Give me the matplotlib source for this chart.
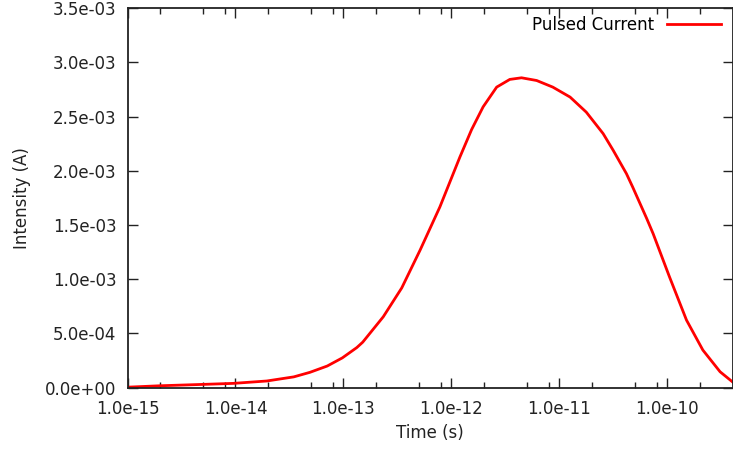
import matplotlib
matplotlib.use("Agg")
import matplotlib.pyplot as plt
from matplotlib.ticker import FixedLocator, FormatStrFormatter, MultipleLocator, NullFormatter

# values
time_s = [1.00e-15, 2.00e-15, 5.13e-15, 9.55e-15, 1.95e-14, 3.47e-14, 4.90e-14,
          7.08e-14, 9.77e-14, 1.33e-13, 1.51e-13, 2.34e-13, 3.47e-13, 5.13e-13,
          7.83e-13, 1.20e-12, 1.54e-12, 1.97e-12, 2.63e-12, 3.48e-12, 4.47e-12,
          6.17e-12, 8.71e-12, 1.26e-11, 1.78e-11, 2.55e-11, 3.16e-11, 4.19e-11,
          4.79e-11, 6.46e-11, 7.41e-11, 1.05e-10, 1.51e-10, 2.14e-10, 3.09e-10,
          4.07e-10]
current_ma = [0.005, 0.018, 0.031, 0.040, 0.062, 0.100, 0.142,
              0.200, 0.275, 0.37, 0.42, 0.654, 0.92, 1.268,
              1.667, 2.127, 2.38, 2.590, 2.772, 2.843, 2.858,
              2.833, 2.772, 2.68, 2.541, 2.343, 2.189, 1.974,
              1.85, 1.56, 1.42, 1.022, 0.623, 0.347, 0.147,
              0.05]
current_a = [v * 1e-3 for v in current_ma]

x_major = [1e-15, 1e-14, 1e-13, 1e-12, 1e-11, 1e-10]
x_minor = [m * t for t in x_major for m in (2, 5, 8) if m * t < 4.07e-10]

plt.rcParams['font.family'] = 'DejaVu Sans'
plt.rcParams['font.size'] = 12

fig = plt.figure(figsize=(7.33, 4.54), dpi=100)
ax = fig.add_axes([0.174, 0.146, 0.826, 0.836])

ax.plot(time_s, current_a, color='#ff0000', lw=2, label='Pulsed Current')

ax.set_xscale('log')
ax.set_xlim(1e-15, 4.07e-10)
ax.set_ylim(0, 3.5e-3)

ax.xaxis.set_major_locator(FixedLocator(x_major))
ax.xaxis.set_minor_locator(FixedLocator(x_minor))
ax.xaxis.set_major_formatter(FormatStrFormatter('%.1e'))
ax.xaxis.set_minor_formatter(NullFormatter())
ax.yaxis.set_major_locator(MultipleLocator(5e-4))
ax.yaxis.set_major_formatter(FormatStrFormatter('%.1e'))

ax.tick_params(which='both', direction='in', top=True, right=True, colors='#222222', width=1)
ax.tick_params(which='major', length=7, pad=8)
ax.tick_params(which='minor', length=4)
ax.tick_params(axis='x', which='major', pad=9)
for s in ax.spines.values():
    s.set_color('#222222')
    s.set_linewidth(1.3)

ax.set_xlabel('Time (s)', labelpad=4, color='#222222')
ax.set_ylabel('Intensity (A)', labelpad=10, color='#222222')

ax.legend(loc='upper right', frameon=False, markerfirst=False, handlelength=3.2,
          borderaxespad=0.2, bbox_to_anchor=(0.996, 1.005))

fig.savefig('out.png', dpi=100)
